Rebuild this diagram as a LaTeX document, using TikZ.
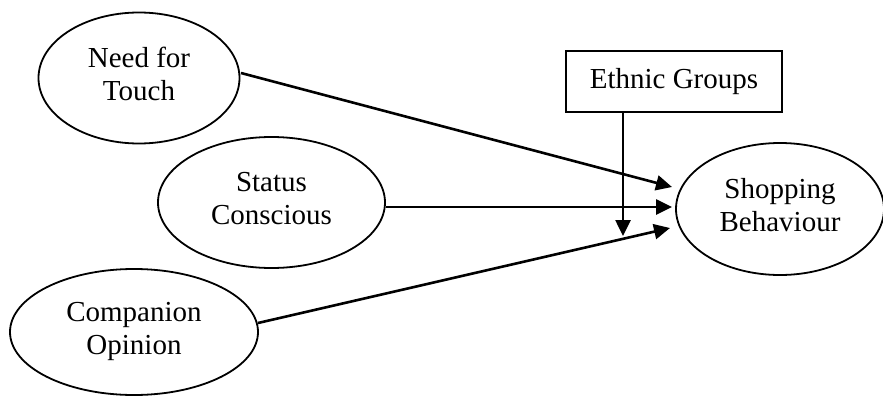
\documentclass[tikz,border=0pt]{standalone}
\usepackage{fontspec}
\setmainfont{Liberation Serif}
\usetikzlibrary{shapes.geometric,arrows.meta}
\begin{document}
\begin{tikzpicture}[x=1pt,y=-1pt,
  every node/.style={font=\fontsize{29}{33}\selectfont, align=center},
  oval/.style={draw, ellipse, line width=1.8pt, inner sep=0pt, text depth=8pt},
  boxnode/.style={draw, rectangle, line width=1.6pt, inner sep=0pt},
  conn/.style={line width=2.6pt, -{Triangle[length=16pt,width=15pt]}}]
\useasboundingbox (0,0) rectangle (883,396);
\node[oval, minimum width=201, minimum height=131] (nft) at (139,78) {Need for\\Touch};
\node[oval, minimum width=227, minimum height=131] (sc) at (271.5,202.5) {Status\\Conscious};
\node[oval, minimum width=248, minimum height=126] (co) at (134,332) {Companion\\Opinion};
\node[oval, minimum width=208, minimum height=132] (sb) at (780,209) {Shopping\\Behaviour};
\node[boxnode, minimum width=216, minimum height=61] (eg) at (674,81.5) {Ethnic Groups};
\coordinate (t1) at (672,187);
\coordinate (t2) at (672,207);
\coordinate (t3) at (670,228);
\coordinate (t4) at (623,236);
\coordinate (s1) at (241,73);
\coordinate (s3) at (258,323);
\draw[conn] (s1) -- (t1);
\draw[conn] (sc.east |- t2) -- (t2);
\draw[conn] (s3) -- (t3);
\draw[conn] (eg.south -| t4) -- (t4);
\end{tikzpicture}
\end{document}
